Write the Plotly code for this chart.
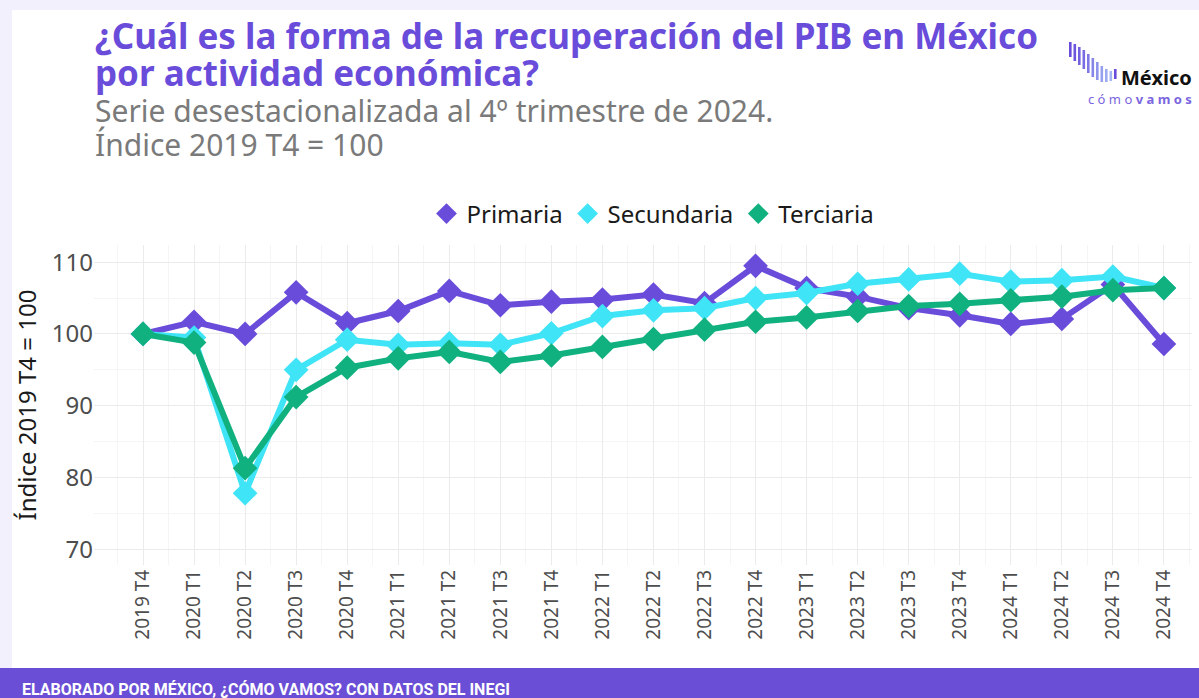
import plotly.graph_objects as go

categories = ["2019 T4", "2020 T1", "2020 T2", "2020 T3", "2020 T4",
              "2021 T1", "2021 T2", "2021 T3", "2021 T4",
              "2022 T1", "2022 T2", "2022 T3", "2022 T4",
              "2023 T1", "2023 T2", "2023 T3", "2023 T4",
              "2024 T1", "2024 T2", "2024 T3", "2024 T4"]

primaria = [100.0, 101.7, 100.0, 105.8, 101.5, 103.2, 106.0, 104.0, 104.5,
            104.8, 105.5, 104.3, 109.5, 106.4, 105.2, 103.6, 102.6,
            101.4, 102.1, 106.9, 98.6]
secundaria = [100.0, 99.5, 77.8, 95.0, 99.2, 98.5, 98.7, 98.5, 100.1,
              102.5, 103.3, 103.6, 105.0, 105.7, 107.0, 107.6, 108.4,
              107.3, 107.5, 108.0, 106.4]
terciaria = [100.0, 98.8, 81.3, 91.2, 95.3, 96.6, 97.5, 96.1, 97.0,
             98.2, 99.3, 100.6, 101.7, 102.3, 103.2, 103.9, 104.2,
             104.7, 105.2, 106.1, 106.4]

series = [("Primaria", primaria, "#6a4cdb"),
          ("Secundaria", secundaria, "#3fe4f6"),
          ("Terciaria", terciaria, "#10b07f")]

y_ticks = [70, 80, 90, 100, 110]
baseline = 100

W, H = 1199, 698
L, R, T, B = 94, 7, 245, 133
PW, PH = W - L - R, H - T - B


def px(x):
    return (x - L) / PW


def py(y):
    return (H - B - y) / PH


xidx = list(range(len(categories)))

fig = go.Figure()
for name, vals, color in series:
    fig.add_trace(go.Scatter(
        x=xidx, y=vals, mode="lines+markers", name=name,
        line=dict(color=color, width=6),
        marker=dict(symbol="diamond", size=19, color=color),
        showlegend=False, hoverinfo="x+y"))
for name, vals, color in series:
    fig.add_trace(go.Scatter(
        x=[None], y=[None], mode="markers", name=name,
        marker=dict(symbol="diamond", size=22, color=color),
        showlegend=True))

fig.add_hline(y=baseline, line=dict(color="#7a7a7a", width=4,
                                    dash="30px,9px,7px,9px"), layer="below")

shapes = []
shapes.append(dict(type="rect", xref="paper", yref="paper",
                   x0=px(12), x1=px(W + 5), y0=py(668), y1=py(10),
                   fillcolor="white", line=dict(width=0), layer="below"))
shapes.append(dict(type="rect", xref="paper", yref="paper",
                   x0=px(-5), x1=px(W + 5), y0=py(H + 5), y1=py(668),
                   fillcolor="#6a4fd6", line=dict(width=0), layer="below"))
# logo bars
bar_x = [1069, 1073.5, 1078, 1082.5, 1087, 1091.5, 1096, 1100.5, 1105, 1109.5, 1114]
bar_top = [42, 44, 47, 50, 54, 58, 62, 66, 69, 71, 69]
bar_bot = [57, 61, 65, 69, 73, 77, 80, 82, 82, 81, 79]
bar_col = ["#6a4cdb", "#6d55de", "#7260e0", "#786ce3", "#7e78e6", "#8686e9",
           "#8e93ec", "#96a0ee", "#9cabf0", "#a3b5f2", "#6a4cdb"]
for bx, bt, bb, bc in zip(bar_x, bar_top, bar_bot, bar_col):
    shapes.append(dict(type="rect", xref="paper", yref="paper",
                       x0=px(bx), x1=px(bx + 2.6), y0=py(bb), y1=py(bt),
                       fillcolor=bc, line=dict(width=0), layer="above"))
fig.update_layout(shapes=list(fig.layout.shapes) + shapes)

TF = "Noto Sans"
annotations = [
    dict(text="<b>¿Cuál es la forma de la recuperación del PIB en México</b>",
         x=px(93), y=py(35), xanchor="left", yanchor="middle",
         font=dict(family=TF, size=35, color="#6a4cdb")),
    dict(text="<b>por actividad económica?</b>",
         x=px(93), y=py(72), xanchor="left", yanchor="middle",
         font=dict(family=TF, size=35, color="#6a4cdb")),
    dict(text="Serie desestacionalizada al 4º trimestre de 2024.",
         x=px(93), y=py(110), xanchor="left", yanchor="middle",
         font=dict(family=TF, size=30, color="#7a7a7a")),
    dict(text="Índice 2019 T4 = 100",
         x=px(93), y=py(144), xanchor="left", yanchor="middle",
         font=dict(family=TF, size=30, color="#7a7a7a")),
    dict(text="<b>México</b>", x=px(1194), y=py(78), xanchor="right", yanchor="middle",
         font=dict(family=TF, size=20, color="#111111")),
    dict(text="c ó m o <b>v a m o s</b>", x=px(1194), y=py(99), xanchor="right",
         yanchor="middle", font=dict(family=TF, size=13, color="#7a66e0")),
    dict(text="<b>ELABORADO POR MÉXICO, ¿CÓMO VAMOS? CON DATOS DEL INEGI</b>",
         x=px(20), y=py(689), xanchor="left", yanchor="middle",
         font=dict(family="Roboto", size=16, color="white")),
]
for a in annotations:
    a.update(xref="paper", yref="paper", showarrow=False)

fig.update_layout(
    width=W, height=H,
    margin=dict(l=L, r=R, t=T, b=B, autoexpand=False),
    paper_bgcolor="#f3f0fd", plot_bgcolor="rgba(0,0,0,0)",
    font=dict(family="Noto Sans", color="#4d4d4d"),
    annotations=annotations,
    legend=dict(orientation="h", x=px(653), y=py(214), xanchor="center",
                yanchor="middle", font=dict(size=24, color="#1a1a1a"),
                bgcolor="rgba(0,0,0,0)", itemsizing="trace",
                tracegroupgap=0, itemwidth=30),
    xaxis=dict(range=[-0.96, 20.55], tickmode="array", tickvals=xidx,
               ticktext=categories, tickangle=-90, showline=False,
               zeroline=False, gridcolor="#ebebeb", gridwidth=1,
               tickfont=dict(size=19, color="#4d4d4d"), ticks="",
               minor=dict(dtick=0.5, tick0=0.5, showgrid=True, gridcolor="#f5f5f5"),
               fixedrange=True),
    yaxis=dict(range=[67.8, 112.4], tickmode="array", tickvals=y_ticks,
               showline=False, zeroline=False, gridcolor="#ebebeb", gridwidth=1,
               tickfont=dict(size=24, color="#4d4d4d"), ticks="",
               minor=dict(dtick=5, tick0=65, showgrid=True, gridcolor="#f5f5f5"),
               title=dict(text="Índice 2019 T4 = 100", standoff=8,
                          font=dict(size=24, color="#1a1a1a")),
               fixedrange=True),
)

fig.write_html("out.html", config={"displayModeBar": False},
               post_script="document.body.style.margin='0px';document.body.style.overflow='hidden';")
